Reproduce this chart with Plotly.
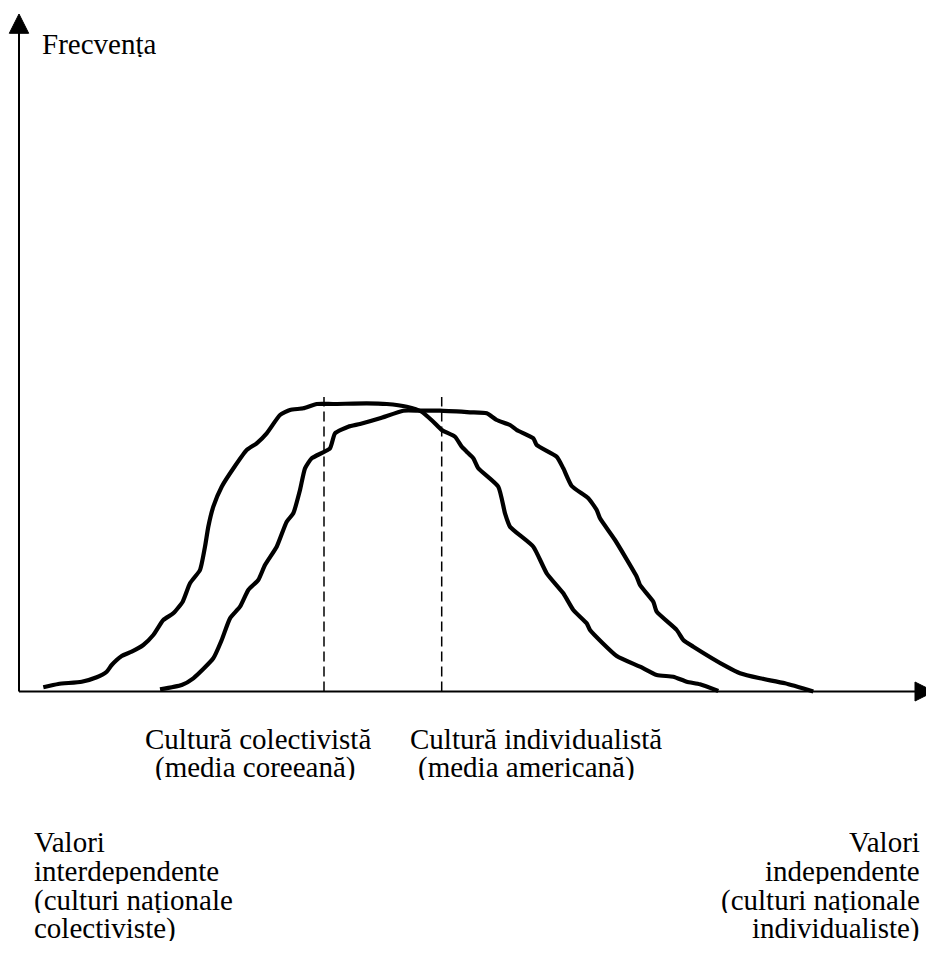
import plotly.graph_objects as go

# ---- data (position along value axis, frequency) ----
coll_x = [24.3, 39.3, 62.7, 77.7, 87.7, 92.7, 102.7, 112.7, 124.3, 134.3, 144.3, 154.3, 163.7, 171,
          181, 186, 189.3, 194.3, 202.7, 216, 227.7, 237.7, 247.7, 261, 271, 284.3, 297.7, 314.3,
          347.7, 367.7, 387.7, 402.7, 414.3, 422.7, 436, 442.7, 447.7, 454.3, 459.3, 479.3, 486,
          491, 514.3, 527.7, 544.3, 554.3, 567.7, 571, 597.7, 621, 637.7, 654.3, 667.7, 681, 699.3]
coll_y = [4.2, 7.5, 9.8, 14.2, 19.8, 26.5, 35.5, 39.8, 46.5, 56.5, 71.5, 78.2, 89.8, 108.2,
          121.5, 144.8, 164.8, 184.8, 204.8, 225.5, 241.5, 248.2, 258.2, 276.5, 281.5, 283.2, 287.5, 287.5,
          288.2, 287.5, 284.8, 279.8, 269.8, 261.5, 254.8, 244.8, 239.8, 233.2, 223.2, 204.8, 178.2,
          164.8, 144.8, 118.2, 98.2, 81.5, 68.2, 61.5, 35.5, 24.8, 16.5, 14.8, 9.8, 7.2, 0.5]

indiv_x = [141, 162.7, 174.3, 194.3, 202.7, 211, 221, 229.3, 239.3, 246, 257.7, 267.7, 274.3, 281,
           286, 292.7, 311, 316, 329.3, 341, 361, 384.3, 401, 421, 451, 467.7, 477.7, 491, 497.7,
           514.3, 517.7, 537.7, 544.3, 552.7, 569.3, 577.7, 581, 596, 617.7, 621, 634.3, 637.7,
           657.7, 664.3, 674.3, 707.7, 721, 741, 766, 794.3]
indiv_y = [2.2, 6.5, 13.2, 33.2, 51.5, 73.2, 84.8, 101.5, 111.5, 126.5, 144.8, 169.8, 178.2, 201.5,
           223.2, 233.2, 243.2, 258.2, 264.8, 267.5, 273.2, 280.8, 280.8, 280.8, 279.2, 278.2, 271.5, 266.5, 261.5,
           253.2, 246.5, 234.8, 223.2, 205.5, 193.2, 181.5, 173.2, 151.5, 114.8, 106.5, 89.8, 79.8,
           61.5, 51.5, 44.8, 24.8, 18.2, 13.2, 8.2, 0]

mean_x = [305, 422.7]          # Korean mean, American mean
mean_top = 294.5

y_label = "Frecvența"
mean_labels = [["Cultură colectivistă", "(media coreeană)"],
               ["Cultură individualistă", "(media americană)"]]
left_labels = ["Valori", "interdependente", "(culturi naționale", "colectiviste)"]
right_labels = ["Valori", "independente", "(culturi naționale", "individualiste)"]

W, H = 926, 959
X0, Y0 = 19, 691.5  # pixel position of axis origin

fig = go.Figure()
for xs, ys in [(coll_x, coll_y), (indiv_x, indiv_y)]:
    fig.add_trace(go.Scatter(x=xs, y=ys, mode="lines",
                             line=dict(color="black", width=4.2, shape="spline", smoothing=0.5),
                             hoverinfo="skip", showlegend=False))
for mx in mean_x:
    fig.add_trace(go.Scatter(x=[mx, mx], y=[0, mean_top], mode="lines",
                             line=dict(color="black", width=1.5, dash="10px,5px"),
                             hoverinfo="skip", showlegend=False))

shapes = [
    dict(type="line", x0=0, y0=0, x1=896, y1=0, line=dict(color="black", width=2), layer="below"),
    dict(type="line", x0=0, y0=0, x1=0, y1=Y0 - 33, line=dict(color="black", width=2), layer="below"),
    dict(type="path", path=f"M 0 {Y0-14} L -9.7 {Y0-33.3} L 9.7 {Y0-33.3} Z",
         fillcolor="black", line=dict(color="black", width=1)),
    dict(type="path", path="M 915 0 L 896 9.5 L 896 -9.5 Z",
         fillcolor="black", line=dict(color="black", width=1)),
]

FONT = dict(family="Liberation Serif, Times New Roman, serif", size=29, color="black")
annotations = []

def add_text(text, px, baseline, anchor="left"):
    annotations.append(dict(text=text, xref="paper", yref="paper",
                            x=px / W, y=1 - (baseline - 10) / H,
                            xanchor=anchor, yanchor="middle", showarrow=False,
                            height=26, valign="middle",
                            font=FONT, borderpad=0))

add_text(y_label, 41, 54)
add_text(mean_labels[0][0], 144, 749)
add_text(mean_labels[0][1], 154, 777)
add_text(mean_labels[1][0], 409, 749)
add_text(mean_labels[1][1], 417, 777)
for i, t in enumerate(left_labels):
    add_text(t, 33, 852 + i * 28.8)
for i, t in enumerate(right_labels):
    add_text(t, 921, 852 + i * 28.8, anchor="right")

fig.update_layout(
    width=W, height=H,
    margin=dict(l=0, r=0, t=0, b=0),
    paper_bgcolor="white", plot_bgcolor="white",
    xaxis=dict(range=[-X0, W - X0], visible=False, fixedrange=True),
    yaxis=dict(range=[Y0 - H, Y0], visible=False, fixedrange=True),
    shapes=shapes, annotations=annotations,
    showlegend=False, hovermode=False,
)

fig.write_html("out.html", config={"displayModeBar": False},
               post_script="document.body.style.margin='0';document.body.style.overflow='hidden';")
